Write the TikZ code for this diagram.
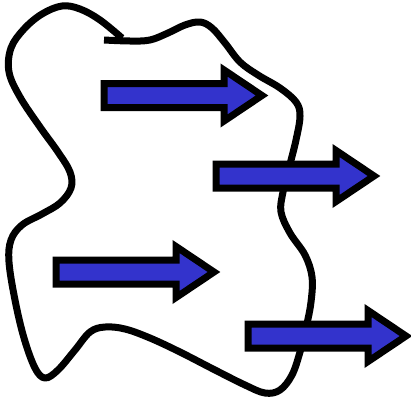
\documentclass[tikz,border=0pt]{standalone}
\usepackage{xcolor}
\usepackage{tikz}
\definecolor{arrowblue}{RGB}{51,51,204}
\tikzset{
  outline/.style={draw=black, line width=0.14cm, line join=round},
  fatarrow/.style={draw=black, fill=arrowblue, line width=0.14cm, line join=miter, miter limit=10},
  flowarrow/.pic={
    \draw[fatarrow] (0,-12) -- (120,-12) -- (120,-25.5) -- (158,0)
      -- (120,25.5) -- (120,12) -- (0,12) -- cycle;
  }
}
\begin{document}
\begin{tikzpicture}[x=0.02cm, y=-0.02cm]
  \useasboundingbox (0,0) rectangle (411,399);
  % Region outline
  \draw[outline] plot[smooth, tension=0.6] coordinates {
    (104,40) (130,41) (150,40) (168,33) (185,25) (200,22) (212,28)
    (225,43) (240,62) (258,75) (280,88) (296,102) (300,116) (296,140)
    (289,168) (283,192) (281,212) (290,233) (305,255) (312,277) (311,302)
    (306,328) (300,352) (292,375) (280,390) (265,393) (245,385) (215,370)
    (180,352) (150,338) (125,329) (105,327) (90,332) (75,350) (58,370)
    (45,378) (35,368) (24,338) (15,300) (9,262) (11,240) (22,225) (42,214)
    (60,203) (71,188) (70,172) (58,152) (40,127) (20,97) (9,72) (11,48)
    (24,29) (42,14) (62,6) (80,9) (100,20) (122,38)
  };
  % Arrows
  \pic at (104,95.5) {flowarrow};
  \pic at (216,176) {flowarrow};
  \pic at (56,272) {flowarrow};
  \pic at (248,336) {flowarrow};
\end{tikzpicture}
\end{document}
